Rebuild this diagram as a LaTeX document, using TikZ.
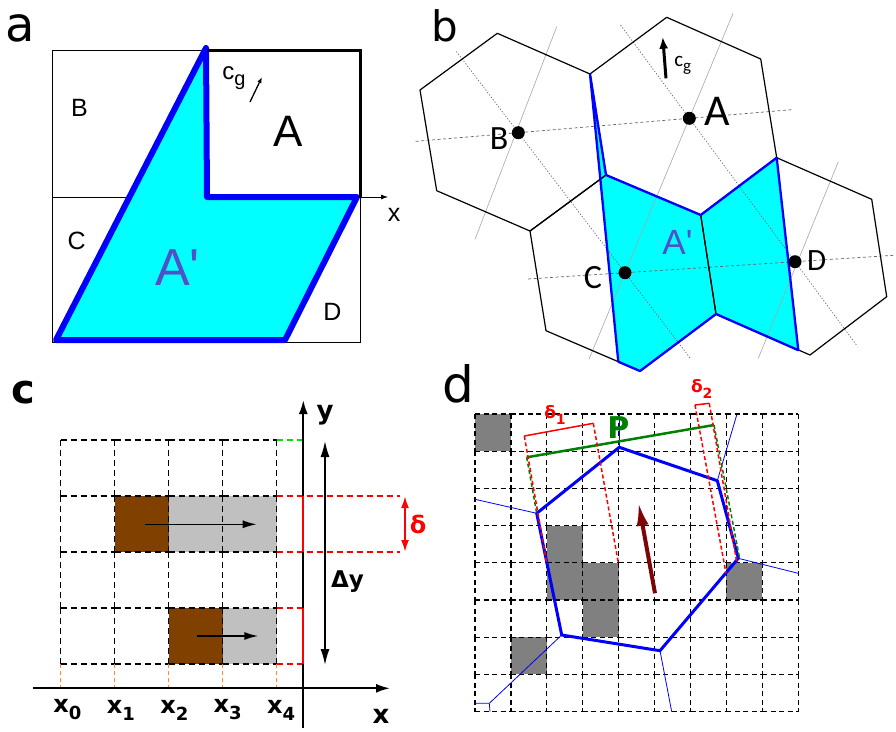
\documentclass[tikz,border=0pt]{standalone}
\usepackage{fontspec}
\setmainfont{DejaVu Sans}
\newfontfamily\arialfont{Liberation Sans}
\newfontfamily\calfont{Carlito}
\usetikzlibrary{arrows.meta,calc}
\newcommand{\fsz}[1]{\fontsize{#1}{#1}\selectfont}
\definecolor{sweptfill}{RGB}{0,255,255}
\definecolor{edgeblue}{RGB}{0,0,255}
\definecolor{primelabel}{RGB}{80,80,200}
\definecolor{cellbrown}{RGB}{128,64,0}
\definecolor{celllight}{RGB}{192,192,192}
\definecolor{cellgray}{RGB}{128,128,128}
\definecolor{velmaroon}{RGB}{125,5,5}
\definecolor{pgreen}{RGB}{0,128,0}
\definecolor{limegreen}{RGB}{0,230,0}
\definecolor{tickorange}{RGB}{255,140,40}

\begin{document}
\begin{tikzpicture}[x=1pt, y=-1pt,
    every node/.style={inner sep=0pt},
    gridline/.style={dash pattern=on 6pt off 4pt, line width=1.3pt},
    finegrid/.style={dash pattern=on 5pt off 3.5pt, line width=1.3pt},
    hexedge/.style={line width=1.2pt, line join=round},
    guide/.style={gray!70, line width=0.6pt},
    guidedash/.style={gray!80!black, line width=0.7pt, dash pattern=on 3pt off 2.5pt},
    guidedot/.style={gray!80!black, line width=0.7pt, dash pattern=on 1.2pt off 1.8pt}]
\useasboundingbox (0,0) rectangle (896,731);

% ---------- a: square cells
\node[font=\fsz{48}] (la) at (20,28) {a};
\draw[line width=0.8pt] (52,50) rectangle (360,342);
\draw[line width=0.8pt] (52,197) -- (360,197);
\coordinate (xa) at (388,197);
\draw[line width=0.8pt, -{Latex[length=7pt,width=5pt]}] (360,197) -- (xa);
\fill[sweptfill] (206,48) -- (207,197) -- (357,197) -- (285,340) -- (56,340) -- cycle;
\draw[edgeblue, line width=6pt, line join=round] (206,48) -- (207,197) -- (357,197) -- (285,340) -- (56,340) -- cycle;
\draw[line width=3pt] (207,50) -- (360,50) -- (360,197);
\node[font=\arialfont\fsz{25}] (xlab) at (394,215) {x};
\node[font=\arialfont\fsz{25}] (cellB) at (79.5,107.5) {B};
\node[font=\arialfont\fsz{25}] (cellC) at (76.7,241) {C};
\node[font=\arialfont\fsz{25}] (cellD) at (332.5,311.7) {D};
\node[font=\arialfont\fsz{44}] (cellA) at (288.3,131) {A};
\node[font=\arialfont\fsz{52}, text=primelabel] (cellAp) at (177.5,267.5) {A'};
\node[font=\arialfont\fsz{24}] (cga) at (234,78) {c\raisebox{-6pt}{\fsz{20}g}};
\draw[line width=1.3pt, -{Latex[length=6pt,width=4.5pt]}] (250,102) -- (262,77);

% ---------- b: hexagonal cells
\node[font=\fsz{42}] (lb) at (445,26) {b};
\coordinate (a1) at (590,74);
\coordinate (a2) at (666.7,17.3);
\coordinate (a3) at (760.7,59);
\coordinate (a4) at (776.7,157.7);
\coordinate (a5) at (700.7,215);
\coordinate (a6) at (606,175);
\coordinate (b1) at (420,90);
\coordinate (b2) at (497.3,33.3);
\coordinate (c1) at (530,231);
\coordinate (b6) at (436.7,190.7);
\coordinate (c4) at (716,314);
\coordinate (c5) at (640,371);
\coordinate (c6) at (546,330.7);
\coordinate (d3) at (871.7,199.3);
\coordinate (d4) at (886.7,296.7);
\coordinate (d5) at (810,355);
\coordinate (s1) at (798.3,350.2);
\coordinate (s2) at (618.3,361.7);
\coordinate (cA) at (689.3,118.3);
\coordinate (cB) at (518.3,132.7);
\coordinate (cC) at (625,272.7);
\coordinate (cD) at (795,261.7);

\fill[sweptfill] (a1) -- (a6) -- (a5) -- (a4) -- (s1) -- (c4) -- (c5) -- (s2) -- cycle;
\draw[guidedash] ($(cB)!-0.6!(cA)$) -- ($(cA)!-0.6!(cB)$);
\draw[guidedash] ($(cC)!-0.57!(cD)$) -- ($(cD)!-0.59!(cC)$);
\draw[guidedot] ($(cB)!-0.58!(cC)$) -- ($(cC)!-0.61!(cB)$);
\draw[guidedot] ($(cA)!-0.65!(cD)$) -- ($(cD)!-0.59!(cA)$);
\draw[guide] ($(cA)!-0.68!(cC)$) -- ($(cC)!-0.56!(cA)$);
\draw[guide] (556.7,26.7) -- (475,239.3);
\draw[guide] (838.3,161.7) -- (758.3,358.3);

\draw[hexedge] (b1) -- (b2) -- (a1) -- (a6) -- (c1) -- (b6) -- cycle;
\draw[hexedge] (a1) -- (a2) -- (a3) -- (a4) -- (a5) -- (a6) -- cycle;
\draw[hexedge] (c1) -- (a6) -- (a5) -- (c4) -- (c5) -- (c6) -- cycle;
\draw[hexedge] (a5) -- (a4) -- (d3) -- (d4) -- (d5) -- (c4) -- cycle;
\draw[edgeblue, line width=2.3pt, line join=round] (a1) -- (a6) -- (a5) -- (a4) -- (s1) -- (c4) -- (c5) -- (s2) -- cycle;

\foreach \c in {cA,cB,cC,cD}
  \fill (\c) circle (6.5pt);
\node[font=\calfont\fsz{44}] (hexA) at (717.5,111) {A};
\node[font=\calfont\fsz{34}] (hexB) at (499.2,139) {B};
\node[font=\calfont\fsz{34}] (hexC) at (593,277.5) {C};
\node[font=\calfont\fsz{31}] (hexD) at (816.7,261) {D};
\node[font=\arialfont\fsz{35}, text=primelabel] (hexAp) at (677.5,242.5) {A'};
\node[font=\calfont\fsz{21}] (cgb) at (682.7,65) {c\raisebox{-5pt}{\fsz{17}g}};
\draw[line width=3pt, -{Latex[length=12pt,width=9pt]}] (666,78.3) -- (662.7,36.7);

% ---------- c: shifted rows of cells
\node[font=\bfseries\fsz{40}] (lc) at (23.3,392.5) {c};
\begin{scope}[shift={(60.7,440)}, x=54pt, y=-56pt]
  \fill[cellbrown] (1,1) rectangle (2,2);
  \fill[celllight] (2,1) rectangle (4,2);
  \fill[cellbrown] (2,3) rectangle (3,4);
  \fill[celllight] (3,3) rectangle (4,4);
  \foreach \i in {0,...,3}
    \foreach \j in {0,...,4}
      \draw[gridline] (\i,\j) -- ++(1,0);
  \foreach \i in {0,...,4}
    \foreach \j in {0,...,3}
      \draw[gridline] (\i,\j) -- ++(0,1);
  \foreach \i in {0,...,4}
    \draw[tickorange, line width=1.2pt, dash pattern=on 4pt off 3pt] (\i,4) -- (\i,4.43);
\end{scope}
\draw[line width=1.6pt, -{Latex[length=14pt,width=8pt]}] (145,524.3) -- (256.7,524.3);
\draw[line width=1.6pt, -{Latex[length=14pt,width=8pt]}] (196.7,636) -- (258.3,636);

\draw[red, gridline] (276.7,496) -- (400,496);
\draw[red, gridline] (276.7,552) -- (400,552);
\draw[red, gridline] (276.7,608) -- (303.3,608);
\draw[red, gridline] (276.7,664) -- (303.3,664);
\draw[limegreen, gridline] (276.7,440) -- (303.3,440);

\coordinate (ytop) at (303.3,400);
\coordinate (xend) at (390,688.3);
\draw[line width=2pt, -{Latex[length=14pt,width=9pt]}] (303.3,728) -- (ytop);
\draw[line width=2pt, -{Latex[length=14pt,width=9pt]}] (33,688.3) -- (xend);
\draw[red, line width=2pt] (303.3,496) -- (303.3,552);
\draw[red, line width=2pt] (303.3,608) -- (303.3,664);
\draw[line width=1.6pt, {Latex[length=16pt,width=9pt]}-{Latex[length=16pt,width=9pt]}] (325,441) -- (325,665);
\draw[red, line width=2pt, {Latex[length=12pt,width=8pt]}-{Latex[length=12pt,width=8pt]}] (405,496) -- (405,552);

\foreach \i in {0,...,4}
  \node[font=\bfseries\fsz{24}] (xt\i) at (67.5+53.4*\i,710) {x\raisebox{-7pt}{\fsz{18}\i}};
\node[font=\bfseries\fsz{26}] (ylab) at (325,415) {y};
\node[font=\bfseries\fsz{26}] (xlabc) at (381,716) {x};
\node[font=\bfseries\fsz{23}] (dy) at (347.5,582) {Δy};
\node[font=\bfseries\fsz{24}, text=red] (dlt) at (418,524) {δ};

% ---------- d: polygon on grid
\node[font=\fsz{50}] (ld) at (458.3,384.2) {d};
\begin{scope}[shift={(475,414)}, x=35.92pt, y=-37.21pt]
  \foreach \i/\j in {0/0,2/3,2/4,3/4,3/5,1/6,7/4}
    \fill[cellgray] (\i,\j) rectangle ++(1,1);
  \foreach \i in {0,...,8}
    \foreach \j in {0,...,8}
      \draw[finegrid] (\i,\j) -- ++(1,0);
  \foreach \i in {0,...,9}
    \foreach \j in {0,...,7}
      \draw[finegrid] (\i,\j) -- ++(0,1);
\end{scope}
\coordinate (h1) at (619.3,447.3);
\coordinate (h2) at (717.3,480.7);
\coordinate (h3) at (738.3,558.3);
\coordinate (h4) at (660,650.7);
\coordinate (h5) at (561.7,635);
\coordinate (h6) at (536.7,513.3);
\coordinate (v5) at (489.3,703.3);
\draw[edgeblue, line width=0.8pt] (h1) -- (619.3,414);
\draw[edgeblue, line width=0.8pt] (h2) -- (736.7,415);
\draw[edgeblue, line width=0.8pt] (h3) -- (798.3,573.3);
\draw[edgeblue, line width=0.8pt] (h4) -- (671.7,711.7);
\draw[edgeblue, line width=0.8pt] (h5) -- (v5) -- (475,703.3);
\draw[edgeblue, line width=0.8pt] (v5) -- (490,711.7);
\draw[edgeblue, line width=0.8pt] (h6) -- (475,499.3);
\draw[edgeblue, line width=3pt, line join=round] (h1) -- (h2) -- (h3) -- (h4) -- (h5) -- (h6) -- cycle;

\coordinate (g1) at (526.7,457.3);
\coordinate (g2) at (714,425);
\draw[pgreen, line width=2.5pt] (g1) -- (g2);
\draw[pgreen, line width=1.5pt, dash pattern=on 4pt off 2.5pt] (g1) -- (h6);
\draw[pgreen, line width=1.5pt, dash pattern=on 4pt off 2.5pt] (g2) -- (739.3,556.7);

\coordinate (r1) at (524.3,436);
\coordinate (r2) at (593.3,423.3);
\coordinate (r3) at (695,405);
\coordinate (r4) at (709.3,403.3);
\draw[red, line width=1.5pt] (r1) -- (r2);
\draw[red, line width=1.5pt] (r3) -- (r4);
\draw[red, line width=1.5pt, dash pattern=on 4pt off 2.5pt] (r1) -- (546.7,562.7);
\draw[red, line width=1.5pt, dash pattern=on 4pt off 2.5pt] (r2) -- (618.3,562.7);
\draw[red, line width=1.5pt, dash pattern=on 4pt off 2.5pt] (r3) -- (726,573.3);
\draw[red, line width=1.5pt, dash pattern=on 4pt off 2.5pt] (r4) -- (736.7,561.7);

\draw[velmaroon, line width=4pt, -{Latex[length=24pt,width=12pt]}] (655,593.3) -- (638.3,501.7);

\node[font=\bfseries\fsz{17}, text=red] (d1) at (555,415) {δ\raisebox{-6pt}{\fsz{14}1}};
\node[font=\bfseries\fsz{17}, text=red] (d2) at (701.7,389) {δ\raisebox{-6pt}{\fsz{14}2}};
\node[font=\bfseries\fsz{30}, text=pgreen] (plab) at (618.3,427.5) {P};
\end{tikzpicture}
\end{document}
